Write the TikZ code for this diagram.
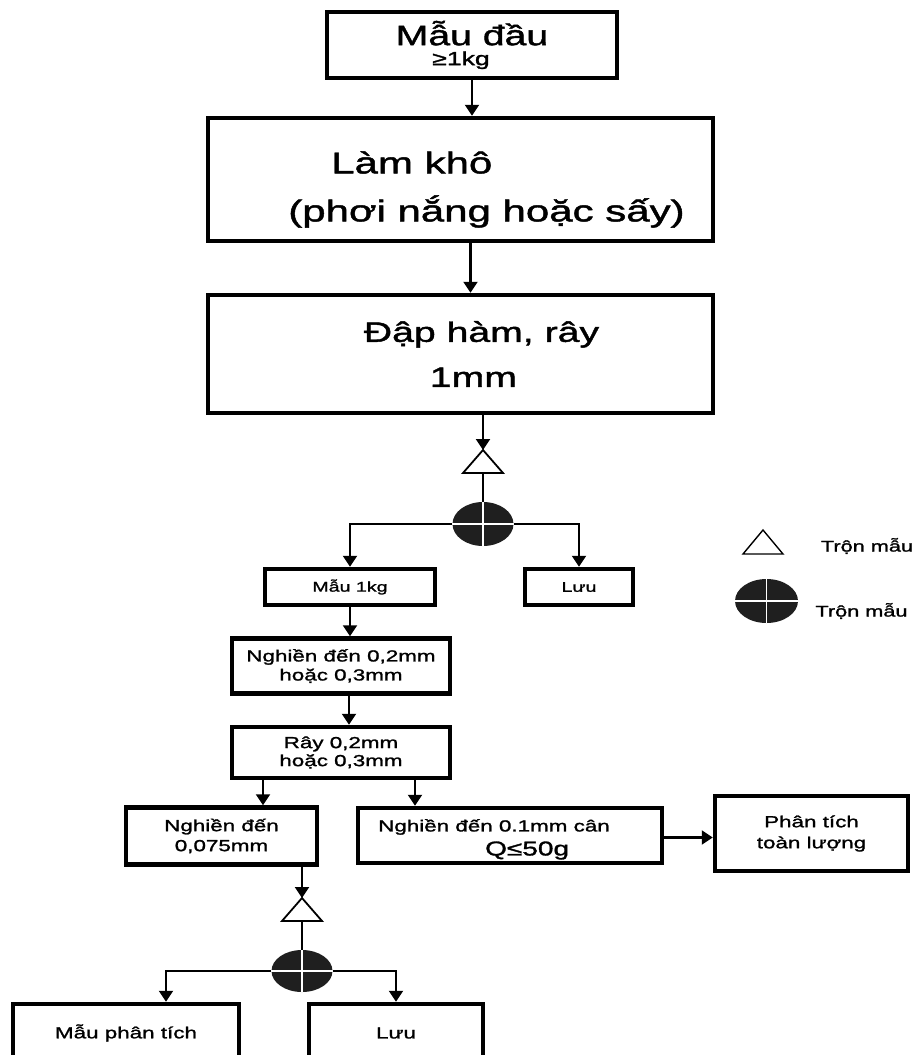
\documentclass[tikz,border=0pt]{standalone}
\usepackage{fontspec}
\setmainfont[FakeStretch=1.4,FakeBold=1.5]{Liberation Sans}
\usetikzlibrary{arrows.meta,shapes.geometric}
\tikzset{
  box/.style={draw=black,line width=4.5pt,inner sep=0pt,align=center,
    font=\fontsize{16}{19}\selectfont},
  flow/.style={-{Triangle[length=11pt,width=14pt]},line width=2.3pt},
  link/.style={line width=2.3pt},
  tri/.style={draw=black,line width=1.8pt,fill=white,line join=miter},
  mixer/.style={ellipse,fill=black!88,minimum width=61pt,minimum height=44pt,
    inner sep=0pt},
  cross/.style={white,line width=1.2pt},
  keytext/.style={font=\fontsize{15.5}{19}\selectfont,inner sep=0pt}
}

\begin{document}
\begin{tikzpicture}[x=1pt,y=-1pt]
\clip (0,0) rectangle (916,1055);

% upper chain
\node[box,minimum width=290pt,minimum height=66pt,
  font=\fontsize{19}{20}\selectfont] (sample) at (472,45)
  {{\fontsize{28}{28}\selectfont Mẫu đầu}\\≥1kg\hspace*{22pt}};

\node[box,minimum width=505pt,minimum height=123pt,align=left,
  font=\fontsize{30}{48}\selectfont] (dry) at (460.5,179.5)
  {\rule{0pt}{42pt}\hspace*{95pt}Làm khô\\\hspace*{52pt}(phơi nắng hoặc sấy)};

\node[box,minimum width=505pt,minimum height=118pt,align=left,
  font=\fontsize{28}{45}\selectfont] (crush) at (460.5,354)
  {\hspace*{42pt}Đập hàm, rây\\\hspace*{108pt}1mm};

\draw[flow] (sample.south) -- (sample.south |- dry.north);
\draw[flow] ([xshift=10pt]dry.south) -- ([xshift=10pt]dry.south |- crush.north);

% first mixing
\coordinate (triA) at (483,450);
\coordinate (triAb) at (483,473);
\draw[flow] (crush.south -| triA) -- (triA);
\draw[tri] (triA) -- ++(20,23) -- ++(-40,0) -- cycle;
\node[mixer] (mixA) at (483,524) {};
\draw[link] (triAb) -- (mixA.north);
\draw[cross] (mixA.north) -- (mixA.south) (mixA.west) -- (mixA.east);

\node[box,minimum width=170pt,minimum height=36pt,
  font=\fontsize{14}{16}\selectfont] (keep) at (350,587) {Mẫu 1kg};
\node[box,minimum width=108pt,minimum height=36pt,
  font=\fontsize{14}{16}\selectfont] (store) at (579,587) {Lưu};
\draw[flow] (mixA.west) -| (keep.north);
\draw[flow] (mixA.east) -| (store.north);

% legend
\coordinate (keyTri) at (763,530);
\draw[tri,line width=1.4pt] (keyTri) -- ++(20,24) -- ++(-40,0) -- cycle;
\node[keytext] (keyTriTxt) at (867,546) {Trộn mẫu};
\node[mixer,minimum width=63pt] (keyMix) at (766.5,601) {};
\draw[cross] (keyMix.north) -- (keyMix.south) (keyMix.west) -- (keyMix.east);
\node[keytext] (keyMixTxt) at (861.5,611) {Trộn mẫu};

% grinding and sieving
\node[box,minimum width=218pt,minimum height=55pt] (grind) at (341,666)
  {Nghiền đến 0,2mm\\hoặc 0,3mm};
\node[box,minimum width=218pt,minimum height=51pt,
  font=\fontsize{16}{18}\selectfont] (sieve) at (341,752.5)
  {Rây 0,2mm\\hoặc 0,3mm};
\draw[flow] (keep.south) -- (keep.south |- grind.north);
\draw[flow] ([xshift=8pt]grind.south) -- ([xshift=8pt]sieve.north);

\node[box,minimum width=191pt,minimum height=57pt,
  font=\fontsize{16}{20}\selectfont] (fine) at (221.5,836)
  {Nghiền đến\\0,075mm};
\node[box,minimum width=304pt,minimum height=55pt,align=left,
  font=\fontsize{16}{24}\selectfont] (weigh) at (510,835.5)
  {\rule{0pt}{20pt}Nghiền đến 0.1mm cân\hspace*{32pt}\\\hspace*{107pt}{\fontsize{20}{24}\selectfont Q≤50g}};
\node[box,minimum width=193pt,minimum height=75pt,
  font=\fontsize{16}{21}\selectfont] (whole) at (811.5,833.5)
  {Phân tích\\toàn lượng};

\draw[flow] ([xshift=-78pt]sieve.south) -- ([xshift=-78pt]sieve.south |- fine.north);
\draw[flow] ([xshift=74pt]sieve.south) -- ([xshift=74pt]sieve.south |- weigh.north);
\draw[flow] ([yshift=-2pt]weigh.east) -- ([yshift=-2pt]weigh.east -| whole.west);

% second mixing
\coordinate (triB) at (302,898);
\coordinate (triBb) at (302,921);
\draw[flow] (fine.south -| triB) -- (triB);
\draw[tri] (triB) -- ++(20,23) -- ++(-40,0) -- cycle;
\node[mixer,minimum height=42pt] (mixB) at (302,971) {};
\draw[link] (triBb) -- (mixB.north);
\draw[cross] (mixB.north) -- (mixB.south) (mixB.west) -- (mixB.east);

\node[box,minimum width=226pt,minimum height=58pt] (part) at (126,1033)
  {Mẫu phân tích};
\node[box,minimum width=174pt,minimum height=58pt] (spare) at (396,1033)
  {Lưu};
\draw[flow] (mixB.west) -| ([xshift=40pt]part.north);
\draw[flow] (mixB.east) -| (spare.north);

\end{tikzpicture}
\end{document}
